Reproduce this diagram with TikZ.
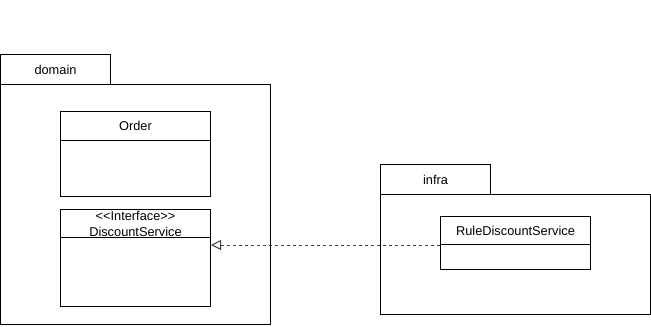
\documentclass[tikz,border=0pt]{standalone}
\usepackage{fontspec}
\setmainfont{Liberation Sans}
\usetikzlibrary{arrows.meta}
\begin{document}
\begin{tikzpicture}[x=0.75pt,y=-0.75pt,
  box/.style={draw=black,line width=0.75pt,anchor=north west,inner sep=0pt,fill=white},
  lbl/.style={font=\fontsize{9.6}{12}\selectfont,align=center,text=black},
  realize/.style={draw=black!75,line width=0.75pt,dash pattern=on 2.25pt off 2.25pt,-{Triangle[open,length=7.5pt,width=7.5pt,fill=white]}}]
\useasboundingbox (0,0) rectangle (651,326);
% domain package
\node[box,minimum width=82.5pt,minimum height=22.5pt] (domtab) at (0,54) {};
\node[lbl] at (domtab.center) {domain};
\node[box,minimum width=202.5pt,minimum height=180pt] (dom) at (0,84) {};
% Order
\node[box,minimum width=112.5pt,minimum height=63.75pt] (order) at (60,111) {};
\node[box,minimum width=112.5pt,minimum height=21.75pt,lbl] (orderh) at (60,111) {Order};
% DiscountService
\node[box,minimum width=112.5pt,minimum height=72.75pt] (ds) at (60,209) {};
\node[box,minimum width=112.5pt,minimum height=21pt,lbl] (dsh) at (60,209) {{<}{<}Interface{>}{>}\\DiscountService};
% infra package
\node[box,minimum width=82.5pt,minimum height=22.5pt] (inftab) at (380,164) {};
\node[lbl] at (inftab.center) {infra};
\node[box,minimum width=202.5pt,minimum height=90pt] (inf) at (380,194) {};
% RuleDiscountService
\node[box,minimum width=112.5pt,minimum height=39.75pt] (rule) at (440,216) {};
\node[box,minimum width=112.5pt,minimum height=21pt,lbl] (ruleh) at (440,216) {RuleDiscountService};
% realization
\draw[realize] (ruleh.south west) -- (ruleh.south west -| ds.east);
\end{tikzpicture}
\end{document}
